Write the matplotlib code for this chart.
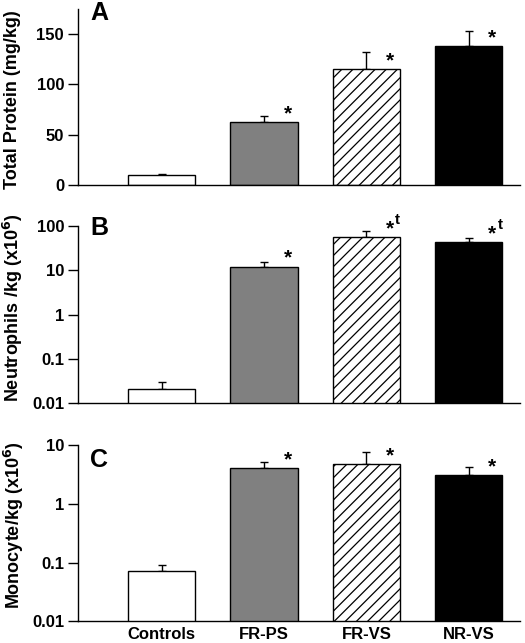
import matplotlib
matplotlib.use("Agg")
import matplotlib.pyplot as plt
import numpy as np

plt.rcParams['font.family'] = ['Liberation Sans', 'DejaVu Sans']
plt.rcParams['font.weight'] = 'bold'
plt.rcParams['hatch.linewidth'] = 0.9

categories = ["Controls", "FR-PS", "FR-VS", "NR-VS"]

protein = [9.5, 62.3, 115.0, 138.0]
protein_err = [1.0, 6.0, 17.0, 15.0]

neutro = [0.0207, 12.1, 56.7, 43.8]
neutro_err = [0.0093, 3.6, 21.0, 9.0]

mono = [0.0716, 4.1, 4.7, 3.08]
mono_err = [0.0184, 1.1, 3.0, 1.18]

marks_A = ["", "*", "*", "*"]
marks_B = ["", "*", "*t", "*t"]
marks_C = ["", "*", "*", "*"]

colors = ["white", "#808080", "white", "black"]
hatches = [None, None, "///", None]

W, H = 525, 643
fig = plt.figure(figsize=(W / 100, H / 100), dpi=100)

def px_rect(l, t, r, b):
    return [l / W, 1 - b / H, (r - l) / W, (b - t) / H]

axA = fig.add_axes(px_rect(78, 8.9, 520, 185))
axB = fig.add_axes(px_rect(78, 226, 520, 403.3))
axC = fig.add_axes(px_rect(78, 445, 520, 621.3))

x = np.arange(len(categories))

def draw(ax, vals, errs, marks, log, letter, letter_y):
    for i in range(len(vals)):
        ax.bar(x[i], vals[i], width=0.655, color=colors[i], edgecolor="black",
               linewidth=1.0, hatch=hatches[i], zorder=2)
    ax.errorbar(x, vals, yerr=[np.zeros(len(vals)), errs], fmt="none",
                ecolor="black", elinewidth=1.0, capsize=3.2, capthick=1.0, zorder=1)
    for i, m in enumerate(marks):
        if not m:
            continue
        ax.annotate("*", xy=(x[i], vals[i]), xytext=(17, 2), textcoords="offset points",
                    ha="center", va="baseline", fontsize=15, fontweight="bold")
        if "t" in m:
            ax.annotate("t", xy=(x[i], vals[i]), xytext=(22.5, 9), textcoords="offset points",
                        ha="center", va="baseline", fontsize=11, fontweight="bold")
    ax.set_xlim(-0.816, 3.5)
    if log:
        ax.set_yscale("log")
        ax.yaxis.set_minor_locator(matplotlib.ticker.NullLocator())
        ax.yaxis.set_major_formatter(matplotlib.ticker.FuncFormatter(
            lambda v, p: ("%g" % v)))
    for s in ["top", "right"]:
        ax.spines[s].set_visible(False)
    for s in ["left", "bottom"]:
        ax.spines[s].set_linewidth(1.0)
    ax.tick_params(axis="y", length=7, width=1.0, labelsize=12, pad=3, direction="out")
    ax.tick_params(axis="x", length=0, labelsize=12, pad=4)
    for lab in ax.get_yticklabels():
        lab.set_fontweight("bold")
    ax.text(0.027, letter_y, letter, transform=ax.transAxes, fontsize=18,
            fontweight="bold", ha="left", va="baseline")

draw(axA, protein, protein_err, marks_A, False, "A", 0.938)
axA.set_ylim(0, 175)
axA.set_yticks([0, 50, 100, 150])
axA.set_xticks([])

draw(axB, neutro, neutro_err, marks_B, True, "B", 0.949)
axB.set_ylim(0.01, 100)
axB.set_yticks([0.01, 0.1, 1, 10, 100])
axB.set_xticks([])

draw(axC, mono, mono_err, marks_C, True, "C", 0.875)
axC.set_ylim(0.01, 10)
axC.set_yticks([0.01, 0.1, 1, 10])
axC.set_xticks(x)
axC.set_xticklabels(categories, fontweight="bold", fontsize=12)

fig.text(12.5 / W, 1 - 100 / H, "Total Protein (mg/kg)", rotation=90,
         ha="center", va="center", fontsize=13, fontweight="bold")
fig.text(12.5 / W, 1 - 307.5 / H, "Neutrophils /kg (x10$^{\\mathbf{6}}$)", rotation=90,
         ha="center", va="center", fontsize=13, fontweight="bold")
fig.text(14 / W, 1 - 525 / H, "Monocyte/kg (x10$^{\\mathbf{6}}$)", rotation=90,
         ha="center", va="center", fontsize=13, fontweight="bold")

fig.savefig("out.png", dpi=100)
